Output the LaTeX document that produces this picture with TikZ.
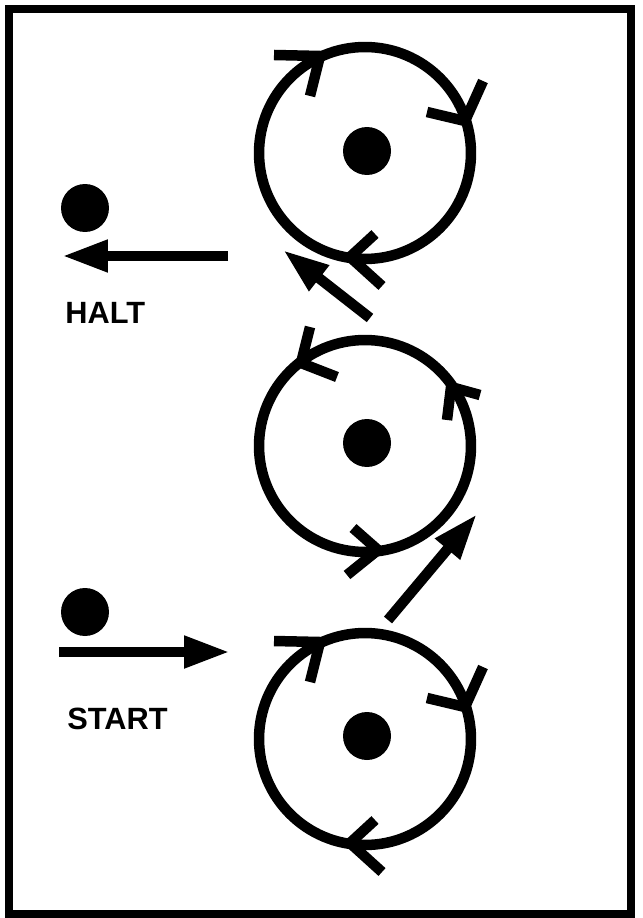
\documentclass[tikz,border=0pt]{standalone}
\usepackage{fontspec}
\setmainfont{Liberation Sans}
\usetikzlibrary{arrows.meta}
\tikzset{wheel/.style={draw,circle,line width=0.21cm,minimum size=4.24cm,inner sep=0pt},
hub/.style={fill,circle,minimum size=0.96cm,inner sep=0pt},
chev/.style={line width=0.21cm,line join=miter},
push/.style={line width=0.21cm,-{Triangle[length=0.92cm,width=0.6cm]}},
sign/.style={font=\bfseries\fontsize{17.5}{20}\selectfont,inner sep=0pt,anchor=base west}}

\begin{document}
\begin{tikzpicture}[x=0.02cm,y=-0.02cm]
\useasboundingbox (0,0) rectangle (642,918);
% frame
\draw[line width=0.16cm] (9,9) rectangle (631,914);
% the three wheels
\node[wheel](w1) at (365,153){};
\node[wheel](w2) at (365,446){};
\node[wheel](w3) at (365,739){};
\node[hub](h1) at (367,151){};
\node[hub](h2) at (367,443){};
\node[hub](h3) at (367,736){};
% turning marks, clockwise on top and bottom wheel
\foreach \w in {w1,w3}{
\begin{scope}[shift={(\w)}]
\draw[chev] (-91,-98) -- (-45,-97) -- (-55,-57);
\draw[chev] (62,-41) -- (100,-32) -- (118,-72);
\draw[chev] (10,81) -- (-15,104) -- (17,133);
\end{scope}}
% counter-clockwise on middle wheel
\begin{scope}[shift={(w2)}]
\draw[chev] (-55,-119) -- (-64,-83) -- (-28,-69);
\draw[chev] (115,-51) -- (86,-59) -- (82,-26);
\draw[chev] (-12,82) -- (13,104) -- (-18,129);
\end{scope}
% ball in and out
\node[hub](b1) at (85,612){};
\node[hub](b2) at (85,208){};
\coordinate (in1) at (59,652);
\coordinate (in2) at (230,652);
\coordinate (out1) at (228,256);
\coordinate (out2) at (62,256);
\draw[push] (in1) -- (in2);
\draw[push] (out1) -- (out2);
% passing between wheels
\coordinate (p1) at (388,620);
\coordinate (p2) at (477,514);
\coordinate (q1) at (370,318);
\coordinate (q2) at (283,250);
\draw[push] (p1) -- (p2);
\draw[push] (q1) -- (q2);
% labels
\node[sign](halt) at (65,323) {HALT};
\node[sign](start) at (67,729) {START};
\end{tikzpicture}
\end{document}
